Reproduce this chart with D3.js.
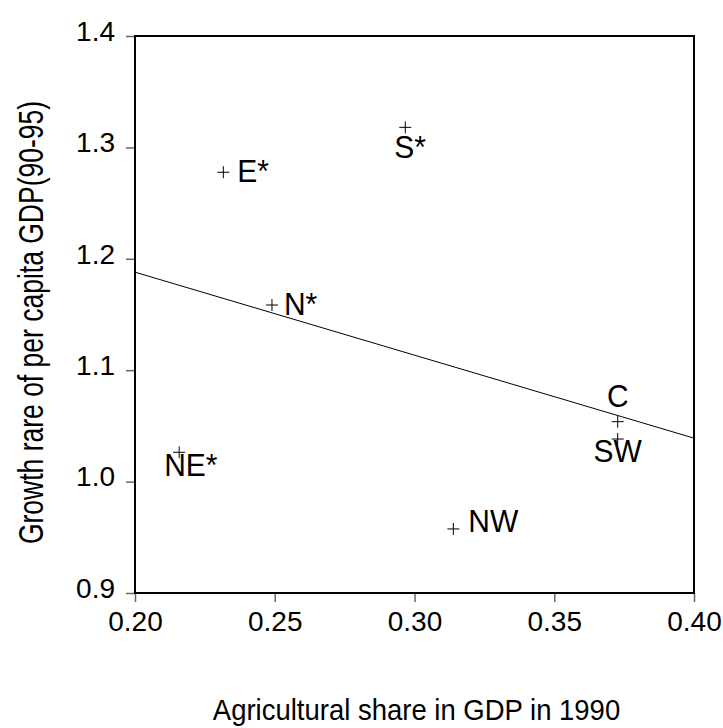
<!DOCTYPE html>
<html>
<head>
<meta charset="utf-8">
<script src="https://cdn.jsdelivr.net/npm/d3@7"></script>
<style>
  html, body { margin: 0; padding: 0; background: #fff; }
  svg { display: block; }
  text { font-family: "Liberation Sans", Arial, sans-serif; fill: #000; }
</style>
</head>
<body>
<svg id="chart" width="723" height="728"></svg>
<script>
// ---- data ----
const regions = ["E*", "S*", "N*", "NE*", "C", "SW", "NW"];
const agriShare = [0.2316, 0.2967, 0.2490, 0.2158, 0.3727, 0.3727, 0.3139];
const growthRate = [1.2777, 1.3180, 1.1585, 1.0263, 1.0538, 1.0382, 0.9575];
const fitX = [0.20, 0.40];
const fitY = [1.188, 1.039];
const xTicks = [0.20, 0.25, 0.30, 0.35, 0.40];
const yTicks = [0.9, 1.0, 1.1, 1.2, 1.3, 1.4];
const xTitle = "Agricultural share in GDP in 1990";
const yTitle = "Growth rare of per capita GDP(90-95)";

// ---- label placement (style) ----
const labelStyle = {
  "E*":  { dx: 14,  dy: 10, anchor: "start" },
  "S*":  { dx: -11, dy: 31, anchor: "start" },
  "N*":  { dx: 12,  dy: 10, anchor: "start" },
  "NE*": { dx: -15, dy: 24, anchor: "start" },
  "C":   { dx: 0,   dy: -15, anchor: "middle" },
  "SW":  { dx: 0,   dy: 23, anchor: "middle" },
  "NW":  { dx: 15,  dy: 3,  anchor: "start" }
};

const svg = d3.select("#chart");
const mLeft = 135, mRight = 694, mTop = 36, mBottom = 593;

const x = d3.scaleLinear().domain([0.20, 0.40]).range([mLeft, mRight]);
const y = d3.scaleLinear().domain([0.9, 1.4]).range([mBottom, mTop]);

// axes
const xAxis = d3.axisBottom(x).tickValues(xTicks).tickFormat(d3.format(".2f")).tickSize(9).tickPadding(9);
const yAxis = d3.axisLeft(y).tickValues(yTicks).tickFormat(d3.format(".1f")).tickSize(9).tickPadding(11);

const gx = svg.append("g").attr("transform", `translate(0,${mBottom})`).call(xAxis);
const gy = svg.append("g").attr("transform", `translate(${mLeft},0)`).call(yAxis);
[gx, gy].forEach(g => {
  g.select(".domain").remove();
  g.selectAll(".tick line").attr("stroke", "#666").attr("stroke-width", 1.5);
  g.selectAll(".tick text").attr("font-size", 28).attr("font-family", "'Liberation Sans', Arial, sans-serif").attr("fill", "#000");
});
gy.selectAll(".tick text").attr("dy", "0.15em");
gx.selectAll(".tick text").attr("dy", "0.72em");

// frame
svg.append("rect")
  .attr("x", mLeft).attr("y", mTop)
  .attr("width", mRight - mLeft).attr("height", mBottom - mTop)
  .attr("fill", "none").attr("stroke", "#000").attr("stroke-width", 2);

// regression line
svg.append("line")
  .attr("x1", x(fitX[0])).attr("y1", y(fitY[0]))
  .attr("x2", x(fitX[1])).attr("y2", y(fitY[1]))
  .attr("stroke", "#000").attr("stroke-width", 1);

// points
const pts = regions.map((r, i) => ({ r, xv: agriShare[i], yv: growthRate[i] }));
const s = 6;
svg.append("g").selectAll("path").data(pts).join("path")
  .attr("d", d => `M${x(d.xv) - s},${y(d.yv)}H${x(d.xv) + s}M${x(d.xv)},${y(d.yv) - s}V${y(d.yv) + s}`)
  .attr("stroke", "#000").attr("stroke-width", 1).attr("fill", "none");

svg.append("g").selectAll("text").data(pts).join("text")
  .attr("transform", d => `translate(${x(d.xv) + labelStyle[d.r].dx},${y(d.yv) + labelStyle[d.r].dy}) scale(1,1.07)`)
  .attr("text-anchor", d => labelStyle[d.r].anchor)
  .attr("font-size", 30)
  .text(d => d.r);

// titles
svg.append("text")
  .attr("transform", `translate(${(mLeft + mRight) / 2 + 2},720) scale(1,1.1)`)
  .attr("text-anchor", "middle").attr("font-size", 27.5)
  .text(xTitle);

svg.append("text")
  .attr("transform", `translate(43,${(mTop + mBottom) / 2 + 8}) rotate(-90) scale(1,1.3)`)
  .attr("text-anchor", "middle").attr("font-size", 26.5)
  .text(yTitle);
</script>
</body>
</html>
